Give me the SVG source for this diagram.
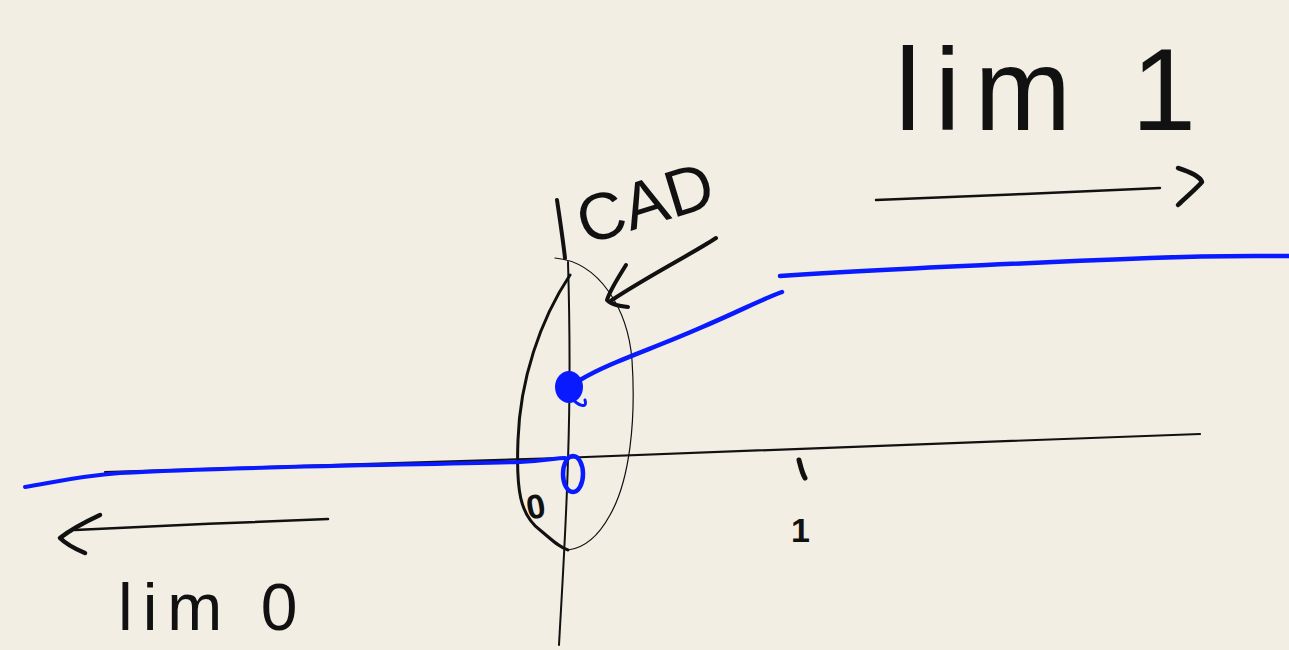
<svg xmlns="http://www.w3.org/2000/svg" width="1289" height="650" viewBox="0 0 1289 650">
<style>
.ink{fill:none;stroke:#111;stroke-linecap:round;stroke-linejoin:round}
.blue{fill:none;stroke:#0a1aff;stroke-linecap:round;stroke-linejoin:round}
.hand{font-family:"Liberation Sans",Arial,sans-serif;fill:#111}
</style>
<rect width="1289" height="650" fill="#f2eee4"/>
<g id="axes">
<path class="ink" d="M557,200 C560,220 563,240 565,258" stroke-width="4"/>
<path class="ink" d="M568,262 C570,330 570,400 568,460 C566,530 562,590 559,645" stroke-width="2"/>
<path class="ink" d="M105,472 L560,458 C750,452 1000,440 1200,434" stroke-width="2.2"/>
</g>
<g id="region">
<path class="ink" d="M570,275 C540,320 520,380 518,440 C516,490 520,515 540,530 C552,540 560,548 568,550" stroke-width="3"/>
<path class="ink" d="M555,258 C600,262 628,310 632,360 C636,420 630,480 610,515 C598,537 585,548 568,550" stroke-width="1.2"/>
</g>
<g id="function">
<path class="blue" d="M25,487 C60,481 80,476 120,473 C250,466 420,465 520,462 C545,461 555,458 565,458" stroke-width="4"/>
<ellipse cx="573" cy="474" rx="10" ry="18" class="blue" stroke-width="4.5"/>
<ellipse cx="569" cy="387" rx="14" ry="16" fill="#0a1aff"/>
<path class="blue" d="M572,398 C578,406 588,409 585,400" stroke-width="3"/>
<path class="blue" d="M580,380 C610,362 650,350 700,328 C740,311 760,300 782,292" stroke-width="4.5"/>
<path class="blue" d="M780,276 C900,268 1050,262 1150,258 C1220,255 1260,256 1289,256" stroke-width="4.5"/>
<path class="ink" d="M799,460 C801,468 802,473 805,478" stroke-width="5"/>
</g>
<g id="cad-pointer">
<path class="ink" d="M716,238 C690,255 650,275 612,300" stroke-width="4"/>
<path class="ink" d="M626,265 C618,278 610,290 607,300 C612,305 620,306 628,307" stroke-width="4"/>
</g>
<g id="limit-arrows">
<path class="ink" d="M876,200 C950,197 1080,192 1160,188" stroke-width="2.5"/>
<path class="ink" d="M1178,168 C1190,172 1200,176 1202,182 C1195,190 1185,198 1178,205" stroke-width="4.5"/>
<path class="ink" d="M328,519 C250,522 150,526 75,530" stroke-width="2.5"/>
<path class="ink" d="M100,515 C85,522 70,530 60,538 C68,546 78,550 85,553" stroke-width="4.5"/>
</g>
<g id="labels">
<text class="hand" x="895" y="130" font-size="116" letter-spacing="14" font-weight="300">lim 1</text>
<text class="hand" x="118" y="630" font-size="66" letter-spacing="10">lim 0</text>
<text class="hand" x="585" y="245" font-size="66" transform="rotate(-17 585 245)">CAD</text>
<text class="hand" x="526" y="518" font-size="34" font-weight="bold" transform="rotate(-10 537 505)">0</text>
<text class="hand" x="791" y="542" font-size="34" font-weight="bold">1</text>
</g>
</svg>
